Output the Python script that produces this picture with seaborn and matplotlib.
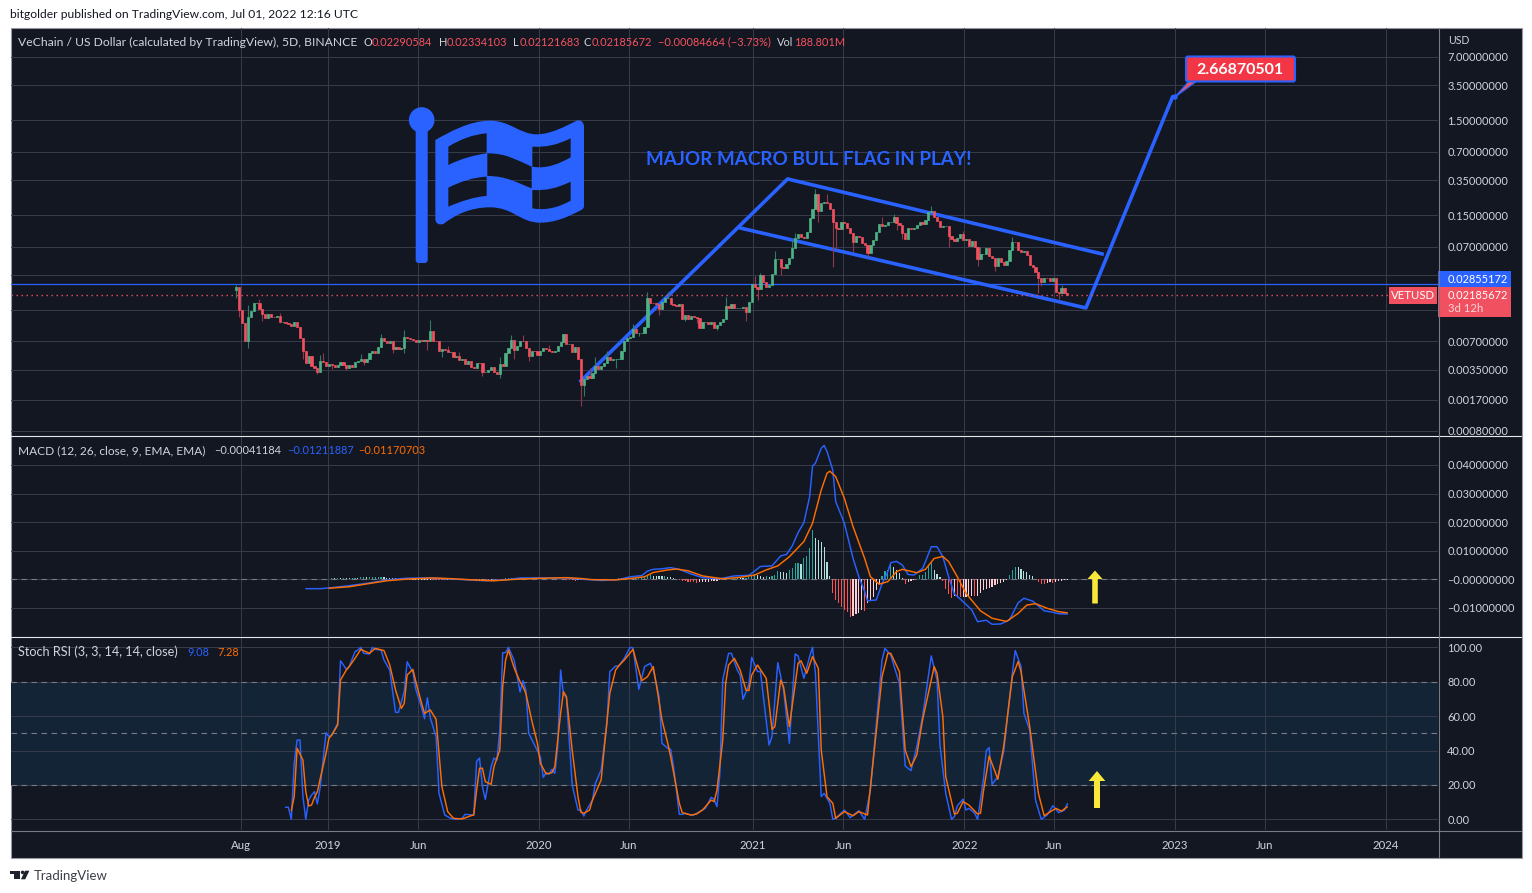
import numpy as np
import pandas as pd
import matplotlib
matplotlib.use("Agg")
import matplotlib.pyplot as plt
import seaborn as sns
from matplotlib.patches import Rectangle, Polygon, Circle, FancyBboxPatch, PathPatch
from matplotlib.path import Path
from matplotlib.ticker import NullLocator

# ---------- data ----------
start_date = "2018-07-27"
first_open = 0.0244
closes = [
 .0260,.01502,.01086,.00708,.01257,.01466,.01766,.01766,.01527,.01362,
 .01246,.01352,.01277,.01267,.01298,.01131,.01131,.01086,.01060,.01020,
 .01122,.00988,.00754,.00560,.00418,.00492,.00389,.00364,.00336,.00435,
 .00428,.00386,.00401,.00395,.00376,.00395,.00425,.00392,.00371,.00392,
 .00379,.00422,.00439,.00453,.00428,.00453,.00525,.00556,.00534,.00607,
 .00760,.00713,.00668,.00708,.00582,.00607,.00582,.00591,.00773,.00760,
 .00736,.00731,.00696,.00725,.00713,.00725,.00713,.00902,.00713,.00702,
 .00556,.00577,.00569,.00542,.00542,.00476,.00492,.00446,.00462,.00405,
 .00439,.00379,.00364,.00418,.00411,.00332,.00336,.00350,.00374,.00332,
 .00315,.00405,.00386,.00534,.00601,.00725,.00569,.00627,.00713,.00702,
 .00596,.00492,.00556,.00551,.00508,.00556,.00601,.00577,.00560,.00542,
 .00551,.00627,.00687,.00838,.00658,.00658,.00547,.00607,.00462,.00243,
 .00279,.00300,.00286,.00323,.00389,.00361,.00389,.00411,.00476,.00446,
 .00453,.00453,.00453,.00556,.00713,.00754,.00773,.0094,.00852,.00852,
 .00852,.01003,.01993,.01794,.01766,.01724,.01538,.01838,.01993,.02026,
 .01724,.01696,.01656,.01724,.01219,.0133,.01209,.01309,.01277,.01227,
 .00979,.01113,.01131,.0107,.01122,.00964,.01045,.01131,.01197,.01656,
 .01564,.01737,.01592,.01592,.01592,.01628,.01442,.01838,.0280,.02604,
 .0248,.03482,.02962,.0265,.02756,.0360,.0518,.0518,.0430,.0419,
 .0455,.0526,.0681,.0855,.0942,.089,.0869,.1005,.1412,.173,
 .2509,.1661,.2001,.205,.2001,.173,.1282,.109,.1064,.1282,
 .1251,.109,.0981,.0788,.0905,.089,.0757,.0727,.0603,.0727,
 .0821,.1005,.1202,.1154,.1182,.1282,.1282,.1424,.1231,.1182,
 .0981,.0841,.109,.1064,.109,.1182,.1282,.1211,.1335,.1608,
 .1648,.1424,.1314,.1135,.1154,.1154,.0905,.0832,.0807,.0855,
 .095,.0821,.0832,.0709,.0801,.0687,.0514,.0584,.0584,.0681,
 .0557,.0526,.0437,.0535,.0481,.0447,.0499,.0644,.0788,.0775,
 .0644,.0609,.0629,.0571,.0448,.043,.0381,.0324,.0294,.0329,
 .0324,.0304,.0324,.02343,.02287,.02582,.02251,.02186]
wick_highs = {0:.02756,4:.01696,8:.0198,15:.0141,29:.00504,30:.00534,43:.00516,50:.00834,58:.0093,67:.01178,
 73:.0062,77:.0054,91:.0048,95:.00818,99:.00818,108:.0064,122:.00364,124:.00476,128:.0055,137:.0108,
 142:.0235,149:.0234,169:.0205,179:.0345,181:.0372,186:.0629,192:.0845,193:.0967,200:.2827,204:.2509,
 223:.1444,227:.1536,240:.1875,251:.102,257:.0690,268:.089,285:.0276,286:.0258}
wick_lows = {0:.0199,1:.0127,4:.00601,9:.0116,23:.00462,28:.00318,33:.00357,38:.0035,44:.00395,54:.00534,
 58:.00534,66:.00569,71:.00474,85:.00303,91:.00287,96:.00462,101:.00434,119:.00145,120:.00187,131:.00371,
 139:.0080,146:.0133,155:.0114,159:.0110,166:.0093,176:.01158,180:.01915,188:.0351,201:.1282,206:.043,
 207:.0653,213:.0608,218:.0538,228:.1047,230:.0832,246:.069,256:.0437,262:.0391,277:.0225,278:.0272,284:.0195}

macd_bars = [24,29,33,39,45,50,54,59,66,73,80,86,93,98,105,114,120,126,132,136,140,142,144,147,150,153,157,161,167,172,177,179,181,185,188,190,192,194,196,198,199,200,202,203,204,206,207,210,213,215,217,218,221,223,225,226,228,230,232,234,237,238,240,242,244,246,248,251,254,256,259,261,264,267,270,272,275,279,282,284,287]
macd_vals = [-.00326,-.00326,-.0029,-.0022,-.0014,-.0006,0,.0004,.0005,.0002,-.0002,-.0005,-.0002,.0005,.0005,.0005,0,-.0004,-.0001,.0009,.0013,.0029,.0035,.0037,.0041,.0035,.0019,.0006,.0002,.0012,.0014,.0029,.0045,.0047,.0082,.0087,.0117,.0163,.0198,.0289,.0396,.0406,.0458,.0468,.0447,.0382,.0272,.0196,.0073,.0009,-.0043,-.0075,-.0072,-.0016,.0027,.0058,.0063,.0050,.0017,.0015,.0038,.0062,.0114,.0114,.0079,.0009,-.0051,-.0078,-.0107,-.0148,-.0143,-.0157,-.0156,-.0142,-.0082,-.0066,-.0076,-.0110,-.0115,-.0120,-.01212]
signal_bars = [32,39,45,52,59,68,75,82,89,96,103,114,119,123,131,136,141,144,149,152,156,161,168,174,179,183,187,191,196,199,202,204,205,207,210,213,217,219,222,225,228,230,233,235,238,241,244,246,249,252,257,261,266,270,273,276,280,284,287]
signal_vals = [-.0031,-.0026,-.0016,-.0005,.0001,.0005,.0002,-.0002,-.0005,0,.0003,.0006,.0003,-.0001,-.0002,.0003,.0009,.0024,.0033,.0036,.003,.0012,.0002,.0007,.0015,.0033,.0047,.0079,.0132,.0196,.0312,.0371,.0378,.0359,.0283,.0184,.0073,.0009,-.0017,-.0008,.0027,.0035,.0028,.0023,.0035,.0073,.008,.0062,.0009,-.0049,-.011,-.0136,-.0147,-.0119,-.009,-.0085,-.0101,-.0113,-.01171]
hist_first_bar = 32
hist_vals = [
 .0002,.0003,.0003,.0004,.0004,.0005,.0005,.0005,.00055,.0006,.0006,.00065,.0007,.0007,.00072,.00074,.00076,.00078,.0008,
 .0007,.0006,.0005,.0004,.0003,.0002,.0001,.00005,
 -.0002,-.0002,-.00018,-.00016,-.00014,-.00012,-.0001,-.00008,-.00006,-.0001,-.00015,-.0002,-.0003,-.00035,-.0003,-.00025,
 -.0002,-.00015,-.0001,-.00008,-.00006,-.00004,-.0001,-.00015,-.0001,-.00008,-.00006,-.00005,-.0001,-.00008,-.00005,-.00003,
 .0001,.0002,.0003,.0004,.0005,.0006,
 .0005,.00045,.0004,.00035,.0003,.00028,.00026,.00024,.00022,.0002,.00018,.00016,.00014,.00012,.0001,.00008,
 -.0001,-.0002,-.0003,-.0004,-.0005,-.0004,-.0003,-.00025,-.0002,-.00015,-.0001,-.00008,-.00005,
 .00002,.00005,.0001,.00015,.0002,.00025,.0003,
 .0003,.0004,.00041,.0005,.00051,.0006,.0007,.0008,.0009,.0013,.0015,.0012,.0011,.00105,.0010,.0011,.0009,.0008,.0005,.0002,
 -.0002,-.0005,-.0007,-.0008,-.0009,-.0011,-.0012,-.0011,-.0010,-.0009,-.0008,-.0007,-.0006,-.0005,-.0003,
 .0002,.0003,.0004,.0005,.0006,.0007,.0004,.0003,.0005,.0008,.0012,.0018,.0016,.0012,.0009,.0012,.0007,.0010,.0016,.0028,.0026,.0024,.00235,
 .0033,.0040,.0056,.0058,.0055,.0073,.0082,.0110,.0171,.0144,.0136,.0130,.0112,.0060,.0012,
 -.0047,-.0072,-.0084,-.0096,-.0107,-.0115,-.0131,-.0127,-.0121,-.0119,-.0107,-.0110,-.0084,-.0072,-.006,-.0037,-.0017,
 .0012,.0029,.0033,.0052,.0042,.0033,.0021,.0004,-.0016,-.001,-.0007,-.0001,.0002,.0015,.00151,.0026,.0047,.0056,.0033,.0017,.0007,
 -.0005,-.0034,-.0051,-.0064,-.0058,-.0061,-.0062,-.0061,-.0060,-.0058,-.0057,-.0058,-.0057,-.0047,-.0037,-.0034,-.0031,-.0028,-.0021,-.0017,-.0014,-.0008,-.0002,
 .0015,.0033,.0043,.0042,.0035,.003,.0027,.0015,.0012,.0001,
 -.0008,-.0016,-.0017,-.0012,-.0008,-.0012,-.0011,-.0007,-.0005,-.0004,-.0003]

k_bars = [17,18,19,20,21,22,23,24,25,26,27,28,29,31,32,33,35,36,38,39,41,42,43,44,46,47,48,50,51,53,54,55,56,58,59,61,62,64,65,66,67,69,70,72,74,76,78,79,82,83,84,85,86,88,89,90,91,92,93,94,96,98,99,100,101,103,105,106,107,108,109,110,111,112,113,114,116,118,119,120,121,123,124,126,128,129,131,132,134,136,137,138,139,141,143,144,146,147,149,150,151,153,154,155,157,158,160,162,164,165,166,167,168,170,171,173,174,175,177,178,180,181,184,185,187,189,191,193,194,196,198,199,200,202,203,205,206,207,210,212,215,217,219,223,224,226,229,231,233,235,237,240,242,243,245,247,248,249,251,252,253,255,256,258,259,260,261,263,265,268,269,271,272,274,276,278,280,282,284,286,287]
k_vals = [7,7,0,32.6,46.1,46.1,13.5,0,11.2,14.1,16.1,8.9,19,50.4,48.1,49.1,55.8,92.2,87.2,88.8,97.5,98.4,100,96.5,96.1,100,98.8,98.4,92.6,86.8,74.2,62.2,62.2,74.2,91.6,85.3,75.6,64.9,58.5,70.7,58.9,48.1,15.1,2.5,.6,0,.6,2.9,2.5,33.7,35.6,19,11.6,30.6,35.6,34.5,51.9,96.9,96.9,100,92.2,74,80.6,75.2,50,43.2,36.4,24.4,27.1,26.2,29.1,26.7,42.2,86.8,72.3,71.3,20,5.4,5.4,1.9,5.4,11.2,20.9,28.7,55.8,85.9,89.1,89.1,93.6,100,99.6,87.4,75.6,88.8,90.7,86.8,71.3,44.2,41.3,40.7,30.6,2.9,2.9,3.5,2.5,2.5,4.5,6.4,12.8,11.6,7.4,26.7,81,96.5,96.5,86.8,83.9,69.8,78.1,94.2,85.9,85.9,43.2,48.1,91.1,75.2,44.2,96.1,95,82,94.6,100,84.9,13.2,15.1,9.3,0,.6,5.4,1,5,0,17,92.6,99.4,95.5,79,31,28.3,42.2,59.7,95,81,43.2,15.1,0,1.6,7.8,11.8,5.4,6.4,3.5,0,22.9,39.9,41.7,20.3,24.8,39.3,84.9,98.1,88.8,61.6,51.9,11.2,0,2.5,7.9,3.9,5.4,9.08]
d_bars = [19,20,21,23,24,25,26,27,28,29,31,32,33,35,36,38,39,41,43,46,48,51,53,55,57,58,59,61,62,64,65,67,69,70,71,73,75,78,81,82,83,84,85,86,88,89,91,92,93,94,96,98,99,100,102,104,105,107,109,110,112,113,114,116,118,119,120,122,123,126,127,129,131,132,134,137,138,140,142,144,145,147,149,150,153,154,157,159,161,164,165,166,168,169,170,172,174,176,177,178,180,183,185,186,188,189,191,194,195,197,199,201,202,204,206,207,210,213,215,218,219,223,225,226,229,231,233,235,237,241,242,244,245,248,249,251,253,256,257,258,260,263,265,268,270,271,274,277,279,283,285,287]
d_vals = [5,13.2,41.3,34.5,16.1,7.8,8.3,12.8,16.1,23.8,38.4,47.1,49,54.8,81,86.8,88.8,93.6,98.8,96.5,99.4,98.1,89.7,75.2,64.5,67.4,83.9,87.2,80,67.4,61.6,63.6,58.1,38.4,19,4.5,.6,.2,2.1,2.5,17,29.7,29.7,21.9,20.3,30.6,40.3,77,92.6,98.4,87.8,80,77.1,73.3,57.8,44.2,32.6,26.4,27.1,30.6,61.6,74.2,71.3,40.3,13.2,4.1,3.5,5.4,11.2,22.9,40.3,73.3,86.8,89.1,92.6,98.8,92.6,80.6,82.9,88.8,79,57.8,44.2,36.4,9.3,3.9,2.5,3.1,5.4,11.2,10.3,17,46.1,79,89.7,93.6,86.8,75.2,74.8,83.9,89.7,82,52.3,53.9,81,77,53.9,90.7,92.2,84.9,94.6,87.8,40.3,13.2,9.3,.6,4.5,2.1,4.5,2.5,19,82.9,96.5,96.5,85.9,40.3,30.6,37.4,57.8,88.8,84.9,59.7,24.8,3.1,3.5,10.3,8.3,3.1,3.5,16.1,36.8,23.3,42.2,82.9,91.7,85.9,53.9,15.1,2.1,6.4,4.8,7.28]

flag_dates = ["2020-03-13","2021-03-05","2022-08-30"]
flag_prices = [.00268,.3611,.0585]
flag2_dates = ["2020-12-13","2022-08-02","2022-12-30"]
flag2_prices = [.1099,.01577,2.6687]

price_ticks = [7,3.5,1.5,.7,.35,.15,.07,.035,.015,.007,.0035,.0017,.0008]
price_labels = ["7.00000000","3.50000000","1.50000000","0.70000000","0.35000000","0.15000000","0.07000000","","","0.00700000","0.00350000","0.00170000","0.00080000"]
macd_ticks = [.04,.03,.02,.01,0,-.01]
macd_labels = ["0.04000000","0.03000000","0.02000000","0.01000000","\u22120.00000000","\u22120.01000000"]
stoch_ticks = [100,80,60,40,20,0]
stoch_labels = ["100.00","80.00","60.00","40.00","20.00","0.00"]
x_tick_dates = ["2018-08-04","2019-01-01","2019-06-06","2020-01-01","2020-06-04","2021-01-04","2021-06-09","2022-01-04","2022-06-08","2023-01-03","2023-06-07","2024-01-02"]
x_tick_labels = ["Aug","2019","Jun","2020","Jun","2021","Jun","2022","Jun","2023","Jun","2024"]
h_line_price = 0.02855172
last_price = 0.02185672

# ---------- style ----------
BG="#131722"; GRID="#363a49"; TXT="#d1d4dc"; UP="#4fb286"; DN="#f0505f"
UPW="#2f7a60"; DNW="#8f3a48"; BLUE="#2962ff"; ORG="#ff6d00"
sns.set_theme(style="dark", rc={"axes.facecolor":"none","figure.facecolor":"white"})
plt.rcParams["font.family"]=["Lato","DejaVu Sans"]
W,H=1532,893
fig=plt.figure(figsize=(W/100,H/100),dpi=100,facecolor="white")
def pane(y0,y1,x0=11,x1=1438,z=2):
    a=fig.add_axes([x0/W,1-y1/H,(x1-x0)/W,(y1-y0)/H],zorder=z)
    a.set_facecolor("none")
    for s in a.spines.values(): s.set_visible(False)
    return a
bgax=pane(0,H,0,W,z=0); bgax.set_xlim(0,W); bgax.set_ylim(H,0); bgax.axis("off")
bgax.add_patch(Rectangle((10.5,27.5),1511,830,fc=BG,ec="#9598a1",lw=.8))

ap=pane(28,435); am=pane(436,636); ar=pane(637,830)
dates=pd.date_range(start_date,periods=len(closes),freq="5D")
def bd(idx): return pd.date_range(start_date,periods=300,freq="5D")[list(idx)]
xl=(pd.Timestamp("2017-07-03"),pd.Timestamp("2024-04-01"))
tick_d=pd.to_datetime(x_tick_dates)
for a in (ap,am,ar):
    a.grid(True,color=GRID,lw=.75); a.set_axisbelow(True)
    a.tick_params(axis="both",length=0,labelsize=7.9,labelcolor=TXT,colors=TXT)
    a.yaxis.tick_right()
    a.tick_params(axis="y",pad=6.6)

# price
c=np.array(closes); o=np.r_[first_open,c[:-1]]
hi=np.maximum(o,c); lo=np.minimum(o,c)
hw=hi.copy(); lw_=lo.copy()
for k,v in wick_highs.items(): hw[k]=max(hw[k],v)
for k,v in wick_lows.items(): lw_[k]=min(lw_[k],v)
up=c>=o
ap.set_yscale("log")
sns.lineplot(x=pd.to_datetime(flag_dates),y=flag_prices,ax=ap,color=BLUE,lw=2.6,sort=False,estimator=None,zorder=2,solid_capstyle="projecting")
sns.lineplot(x=pd.to_datetime(flag2_dates),y=flag2_prices,ax=ap,color=BLUE,lw=2.6,sort=False,estimator=None,zorder=2)
ap.axhline(h_line_price,color=BLUE,lw=.9,zorder=3)
ap.plot([xl[0],pd.Timestamp("2024-01-08")],[last_price]*2,color=DN,lw=1.0,ls=(0,(1,2.6)),zorder=3)
ap.vlines(dates[up],lw_[up],hw[up],color=UPW,lw=.8,zorder=4)
ap.vlines(dates[~up],lw_[~up],hw[~up],color=DNW,lw=.8,zorder=4)
ap.bar(dates[up],(hi-lo)[up],bottom=lo[up],width=3.8,color=UP,edgecolor=UP,lw=.5,zorder=5)
ap.bar(dates[~up],(hi-lo)[~up],bottom=lo[~up],width=3.8,color=DN,edgecolor=DN,lw=.5,zorder=5)
ap.set_ylim(.000722,14.1)
ap.set_yticks(price_ticks); ap.set_yticklabels(price_labels); ap.yaxis.set_minor_locator(NullLocator())

# macd
hv=np.array(hist_vals); hb=bd(range(hist_first_bar,hist_first_bar+len(hv)))
prev=np.r_[0,hv[:-1]]
hcol=np.where(hv>=0,np.where(hv>prev,"#26a69a","#b2dfdb"),np.where(hv>prev,"#ffcdd2","#ff5252"))
am.axhline(0,color="#787b86",lw=.8,ls=(0,(5,4)),zorder=1)
am.bar(hb,hv,width=2.0,color=list(hcol),lw=0,zorder=2)
sns.lineplot(x=bd(macd_bars),y=macd_vals,ax=am,color=BLUE,lw=1.05,estimator=None,zorder=3)
sns.lineplot(x=bd(signal_bars),y=signal_vals,ax=am,color=ORG,lw=1.05,estimator=None,zorder=4)
am.set_ylim(-.0198,.0501); am.set_yticks(macd_ticks); am.set_yticklabels(macd_labels)

# stoch
ar.axhspan(20,80,color="#142437",lw=0,zorder=0)
for v in (80,50,20): ar.axhline(v,color="#787b86",lw=.8,ls=(0,(5,4)),zorder=1)
sns.lineplot(x=bd(k_bars),y=k_vals,ax=ar,color=BLUE,lw=1.05,estimator=None,zorder=3)
sns.lineplot(x=bd(d_bars),y=d_vals,ax=ar,color=ORG,lw=1.05,estimator=None,zorder=4)
ar.set_ylim(-6.2,106); ar.set_yticks(stoch_ticks); ar.set_yticklabels(stoch_labels)

for a in (ap,am,ar):
    a.set_xlim(*xl); a.set_xticks(tick_d); a.set_xlabel(""); a.set_ylabel("")
ap.set_xticklabels([]); am.set_xticklabels([])
ar.set_xticklabels(x_tick_labels); ar.tick_params(axis="x",pad=7.2,labelsize=8.2)

# ---------- overlay ----------
ov=pane(0,H,0,W,z=10); ov.set_xlim(0,W); ov.set_ylim(H,0); ov.axis("off")
def T(x,y,s,color=TXT,size=7.9,ha="left",va="center",**k):
    ov.text(x,y,s,color=color,fontsize=size,ha=ha,va=va,**k)
for y in (435.5,636.5):
    ov.plot([11,1521],[y,y],color="#e6e7ea",lw=.8)
ov.plot([11,1521],[830.5,830.5],color="#787b86",lw=.8)
ov.plot([1438.5,1438.5],[28,857],color="#787b86",lw=.8)

T(10,15,"bitgolder published on TradingView.com, Jul 01, 2022 12:16 UTC",color="#131722",size=8.75)
T(18,42,"VeChain / US Dollar (calculated by TradingView), 5D, BINANCE",size=8.75)
RED="#f7525f"
for x,s,col in [(364,"O",TXT),(372,"0.02290584",RED),(439,"H",TXT),(447,"0.02334103",RED),(513,"L",TXT),(520,"0.02121683",RED),
                (584,"C",TXT),(592,"0.02185672",RED),(658,"\u22120.00084664 (\u22123.73%)",RED),(777,"Vol",TXT),(794,"188.801M",RED)]:
    T(x,42,s,color=col)
T(18,451,"MACD (12, 26, close, 9, EMA, EMA)",size=8.6)
T(214,451,"\u22120.00041184",color=TXT)
T(287,451,"\u22120.01211887",color=BLUE)
T(358,451,"\u22120.01170703",color=ORG)
T(18,652,"Stoch RSI (3, 3, 14, 14, close)",size=9.1)
T(187,652,"9.08",color=BLUE); T(217,652,"7.28",color=ORG)
T(1448,40,"USD",size=7.6)
T(646,159.5,"MAJOR MACRO BULL FLAG IN PLAY!",color=BLUE,size=13.6,weight="bold")

# price badges
ov.add_patch(Rectangle((1438,271),72.7,15.7,fc=BLUE,ec="none"))
ov.add_patch(Rectangle((1438,286.7),72.7,30,fc=DN,ec="none"))
ov.add_patch(Rectangle((1389,287),48,17,fc=DN,ec="none"))
T(1448,279.5,"0.02855172",color="white")
T(1448,295.5,"0.02185672",color="white")
T(1448,308.5,"3d 12h",color="#fbd5d8",size=8.2)
T(1413,295.5,"VETUSD",color="white",size=8.2,ha="center")

# target label
ov.add_patch(Polygon([(1189,81),(1197,81),(1175,97)],fc=DN,ec=BLUE,lw=.9,zorder=3))
ov.add_patch(Circle((1175,97),2,fc=BLUE,ec=BLUE,zorder=3))
ov.add_patch(FancyBboxPatch((1186,56.5),109,25,boxstyle="round,pad=0,rounding_size=2",fc="#f23645",ec=BLUE,lw=1.5,zorder=4))
T(1240,69.5,"2.66870501",color="white",size=11.5,ha="center",weight="bold",zorder=5)

# yellow arrows
YEL="#f9e83b"
def arrow(xc,tip,base,bot,hw_=8,sw=2.8):
    ov.add_patch(Polygon([(xc,tip),(xc+hw_,base),(xc+sw,base),(xc+sw,bot),(xc-sw,bot),(xc-sw,base),(xc-hw_,base)],fc=YEL,ec="none"))
arrow(1095,570.5,579,603.5,7.5,2.8)
arrow(1097,771,781,808,8.3,3)

# flag icon
Z=lambda x,y:(400+x/3,100+y/3)
ov.add_patch(Circle((421.7,120),12.8,fc=BLUE,ec="none"))
ov.add_patch(FancyBboxPatch((417.7,122),8,139,boxstyle="round,pad=2,rounding_size=3",fc=BLUE,ec="none"))
V=[];C_=[]
def M(p): V.append(Z(*p));C_.append(Path.MOVETO)
def L(p): V.append(Z(*p));C_.append(Path.LINETO)
def B(a,b,e):
    V.extend([Z(*a),Z(*b),Z(*e)]);C_.extend([Path.CURVE4]*3)
def CL(): V.append(V[-1]);C_.append(Path.CLOSEPOLY)
M((106,120));B((150,95),(210,62),(270,62));B((330,62),(360,103),(410,103));B((450,103),(495,80),(530,62));B((545,58),(552,70),(552,80))
L((552,318));B((552,325),(548,328),(540,332));B((500,352),(465,368),(420,368));B((360,368),(340,322),(270,322));B((210,322),(165,345),(130,372));B((115,376),(106,370),(106,355));CL()
for top_l,bot_l,bc1,bc2,bot_r,top_r,tc1,tc2 in [
    ((145,140),(145,195),(185,175),(225,165),(260,160),(260,100),(220,103),(180,118)),
    ((262,160),(262,228),(320,228),(350,248),(395,265),(395,200),(350,180),(320,160)),
    ((397,140),(397,200),(440,208),(480,190),(512,172),(512,115),(470,135),(440,142)),
    ((145,263),(145,320),(185,303),(225,290),(260,288),(260,230),(220,232),(180,245)),
    ((397,270),(397,325),(440,333),(480,320),(512,302),(512,245),(470,265),(440,272))]:
    M(top_l);L(bot_l);B(bc1,bc2,bot_r);L(top_r);B(tc1,tc2,top_l);CL()
ov.add_patch(PathPatch(Path(V,C_),fc=BLUE,ec="none"))

# TradingView footer
LOGO="#1e222d"
ov.add_patch(Polygon([(10,870.7),(20,870.7),(20,879.3),(14.3,879.3),(14.3,874),(10,874)],fc=LOGO,ec="none"))
ov.add_patch(Circle((22.6,872.4),1.8,fc=LOGO,ec="none"))
ov.add_patch(Polygon([(25,870.7),(29.4,870.7),(25.2,879.3),(21,879.3)],fc=LOGO,ec="none"))
T(33.5,875.5,"TradingView",color="#3c3f4a",size=9.5)

fig.savefig("out.png",dpi=100,facecolor="white")
